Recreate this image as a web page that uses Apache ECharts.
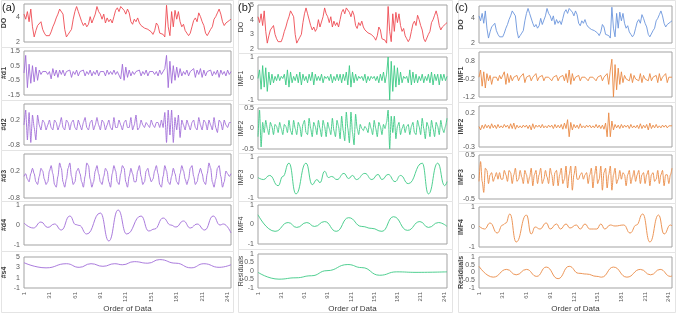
<!DOCTYPE html>
<html>
<head>
<meta charset="utf-8">
<script src="https://cdn.jsdelivr.net/npm/echarts@6/dist/echarts.min.js"></script>
<style>
html, body { margin: 0; padding: 0; background: #fff; }
#main { width: 676px; height: 314px; }
</style>
</head>
<body>
<div id="main"></div>
<script>
// order of data ticks on the x axis
var orderTicks = [1, 31, 61, 91, 121, 151, 181, 211, 241];

// dense series: one value every 2nd observation (1, 3, 5 ... 245)
var doVals = [
    4.2, 3.8, 4.4, 3.6, 4.6, 3.2, 2.4, 2.9, 3.3, 3.2,
    3.6, 3.0, 2.7, 2.5, 2.6, 2.5, 2.8, 3.2, 3.5, 3.9,
    4.2, 4.6, 4.5, 4.2, 3.0, 2.4, 2.6, 2.8, 3.0, 3.8,
    4.4, 4.8, 4.4, 4.5, 3.6, 3.3, 3.5, 3.2, 3.4, 4.0,
    3.5, 3.4, 4.2, 4.8, 4.4, 4.2, 3.8, 4.2, 3.5, 3.9,
    3.6, 3.8, 3.5, 4.0, 4.5, 4.7, 4.4, 4.8, 4.9, 4.5,
    4.2, 4.6, 4.3, 3.6, 3.4, 3.8, 3.6, 3.9, 3.5, 3.3,
    3.4, 3.1, 3.2, 3.0, 2.9, 2.8, 2.6, 2.9, 3.5, 3.3,
    2.7, 2.8, 2.6, 2.4, 4.9, 3.2, 2.5, 4.4, 3.2, 4.5,
    3.8, 4.4, 3.6, 3.2, 3.4, 2.9, 2.7, 2.5, 2.7, 3.2,
    3.7, 3.9, 3.6, 4.3, 4.0, 3.6, 3.3, 2.7, 2.5, 2.4,
    3.0, 3.2, 3.8, 4.0, 4.3, 4.6, 4.2, 3.6, 3.3, 3.5,
    3.4, 3.7, 3.8
];
var d1Vals = [
    0, 1.2, -1.0, 0.6, -0.7, 0.5, -0.6, 0.4, -0.5, 0.2,
    -0.1, 0.1, 0, 0.1, -0.1, 0.1, -0.4, 0.3, -0.2, 0.2,
    -0.3, 0.2, -0.1, 0.2, -0.2, 0.1, 0, 0.2, -0.3, 0.1,
    -0.1, 0.2, -0.2, 0.1, 0, 0.2, -0.2, 0.1, -0.1, 0.2,
    -0.2, 0.1, -0.1, 0.2, -0.2, 0.1, 0, 0.1, -0.2, 0.2,
    -0.1, 0.1, -0.1, 0.2, -0.1, 0.1, 0, -0.4, 0.6, -0.5,
    0.4, -0.3, 0.2, -0.2, 0.1, -0.1, 0.1, 0, 0.2, -0.2,
    0.1, -0.1, 0.2, -0.2, 0.1, 0, 0.1, -0.1, 0.1, -0.2,
    0.2, -0.1, 0, 0.3, 1.2, -1.0, 0.8, -0.7, 0.5, -0.5,
    0.4, -0.3, 0.3, -0.2, 0.1, -0.1, 0.2, -0.2, 0.1, 0,
    0.3, -0.3, 0.2, -0.1, 0.3, -0.3, 0.2, -0.2, 0.1, 0,
    0.2, -0.2, 0.1, -0.1, 0.2, -0.3, 0.2, -0.1, 0.1, -0.2,
    0.2, -0.1, 0.1
];
var d2Vals = [
    0, 0.6, -0.6, 0.5, -0.7, 0.4, -0.1, -0.6, 0.4, 0,
    -0.2, 0.2, 0.1, -0.2, 0, 0.2, -0.1, -0.2, 0.2, 0.1,
    -0.2, 0, 0.3, -0.1, -0.2, 0.2, 0.1, -0.2, 0.1, 0.2,
    -0.1, -0.2, 0.2, 0, -0.2, 0.1, 0.3, -0.1, -0.2, 0.1,
    0.2, -0.2, 0, 0.3, 0, -0.2, 0.2, 0.1, -0.2, 0,
    0.2, -0.1, -0.2, 0.3, -0.1, -0.1, 0.2, 0, -0.2, 0.1,
    0.2, -0.1, -0.1, 0.3, -0.2, 0, 0.4, -0.2, -0.1, 0.2,
    0, -0.1, 0.1, 0, -0.1, 0.2, 0, -0.1, 0.1, 0.1,
    -0.1, 0.2, -0.1, 0.5, -0.7, 0.6, -0.4, 0.6, -0.7, 0.3,
    -0.2, 0.4, -0.5, 0.2, 0, -0.2, 0.2, 0, -0.2, 0.1,
    0.2, -0.1, -0.2, 0.3, 0, -0.2, 0.2, 0.1, -0.2, 0.2,
    0, -0.2, 0.3, -0.1, -0.3, 0.2, 0.1, -0.2, 0.2, 0,
    -0.1, 0.1, 0.1
];
var d3Vals = [
    0, 0.1, -0.1, -0.2, 0.1, 0.3, 0.1, -0.2, -0.3, 0,
    0.3, 0.2, -0.1, -0.3, -0.2, 0.2, 0.4, 0.1, -0.3, -0.4,
    0, 0.5, 0.3, -0.2, -0.4, -0.1, 0.3, 0.5, 0, -0.3,
    -0.2, 0.2, 0.3, 0.1, -0.2, -0.4, 0, 0.5, 0.4, -0.1,
    -0.4, -0.2, 0.2, 0.4, 0.1, -0.2, -0.3, 0, 0.3, 0.2,
    -0.2, -0.4, 0.1, 0.4, 0.2, -0.2, -0.3, 0.1, 0.4, 0.3,
    -0.2, -0.4, 0, 0.3, 0.1, -0.2, -0.2, 0.2, 0.4, 0,
    -0.3, -0.2, 0.2, 0.3, 0, -0.2, -0.1, 0.2, 0.4, 0.1,
    -0.3, -0.4, 0, 0.4, 0.2, -0.2, -0.3, 0, 0.3, 0.1,
    -0.2, -0.3, 0.1, 0.4, 0.2, -0.1, -0.3, -0.1, 0.3, 0.4,
    0, -0.3, -0.2, 0.1, 0.3, 0.1, -0.2, -0.3, 0.1, 0.5,
    0.3, -0.2, -0.4, -0.1, 0.3, 0.4, 0, -0.4, -0.2, 0.2,
    0.1, 0, 0.1
];
var imf1bVals = [
    0, 0.4, -0.5, 0.6, -0.4, 0.5, -0.6, 0.3, -0.3, 0.2,
    -0.2, 0.1, -0.1, 0.2, -0.1, 0.1, 0, 0.2, -0.3, 0.4,
    -0.4, 0.3, -0.2, 0.1, -0.1, 0.2, -0.2, 0.3, -0.3, 0.2,
    -0.1, 0.1, -0.2, 0.2, -0.1, 0.3, -0.3, 0.2, -0.1, 0.1,
    -0.1, 0.2, -0.2, 0.1, 0, 0.1, -0.1, 0.2, -0.2, 0.1,
    -0.1, 0.2, -0.1, 0.2, -0.2, 0.2, -0.1, 0.3, -0.3, 0.6,
    -0.4, 0.3, -0.2, 0.2, -0.1, 0.1, 0, 0.1, -0.1, 0.2,
    -0.2, 0.1, -0.1, 0.1, 0, 0.1, -0.1, 0.1, -0.2, 0.2,
    -0.1, 0.3, -0.2, 0.2, 1.0, -1.0, 0.8, -0.6, 0.6, -0.4,
    0.5, -0.3, 0.3, -0.2, 0.1, 0, 0.1, -0.2, 0.4, -0.3,
    0.3, -0.2, 0.2, -0.2, 0.1, -0.1, 0.2, -0.2, 0.1, -0.1,
    0.2, -0.2, 0.3, -0.3, 0.2, -0.1, 0.2, -0.3, 0.2, -0.1,
    0.2, -0.1, 0.1
];
var imf2bVals = [
    -0.2, 0.45, -0.45, 0.15, -0.1, 0.2, 0, -0.15, 0.15, 0.05,
    -0.15, 0.1, 0.05, -0.1, 0.15, 0, -0.15, 0.1, 0.05, -0.1,
    0.2, -0.05, -0.15, 0.2, 0, -0.15, 0.15, 0.05, -0.2, 0.1,
    0.2, -0.1, -0.15, 0.25, 0, -0.2, 0.15, 0.05, -0.15, 0.2,
    0, -0.2, 0.2, 0.05, -0.2, 0.15, 0, -0.15, 0.25, -0.05,
    -0.2, 0.2, 0.05, -0.25, 0.3, -0.05, -0.3, 0.4, 0, -0.35,
    0.4, -0.1, -0.4, 0.35, 0, -0.15, 0.1, 0, -0.05, 0.05,
    0, -0.1, 0.15, 0, -0.15, 0.2, 0, -0.2, 0.15, 0.05,
    -0.15, 0.1, 0, 0.15, 0.45, -0.5, 0.3, -0.1, 0.3, -0.25,
    0.05, 0.15, -0.15, 0, 0.1, -0.1, 0.05, 0.1, -0.15, 0.05,
    0.15, -0.1, -0.15, 0.2, 0.05, -0.15, 0.25, 0, -0.25, 0.15,
    0.05, -0.2, 0.2, 0, -0.2, 0.15, 0.05, -0.15, 0.2, 0,
    -0.1, 0.05, 0.25
];
var imf1cVals = [
    -0.1, 0.3, -0.6, 0.2, -0.7, 0.1, -0.3, 0, -0.5, -0.1,
    -0.2, -0.1, -0.3, 0, -0.2, -0.1, 0.2, -0.5, 0.1, -0.4,
    0, -0.3, -0.1, -0.2, 0, -0.3, -0.1, -0.2, 0.1, -0.4,
    -0.1, -0.2, 0, -0.3, -0.1, -0.2, 0.1, -0.3, -0.1, -0.2,
    0, -0.3, -0.1, -0.2, -0.1, 0, -0.3, -0.1, -0.2, 0,
    -0.3, -0.1, -0.2, 0, -0.3, 0.1, -0.4, 0.3, -0.5, 0.1,
    -0.3, -0.1, -0.2, 0, -0.3, -0.1, -0.2, -0.1, 0, -0.3,
    -0.1, -0.2, -0.1, 0, -0.3, -0.1, -0.2, 0, -0.3, -0.1,
    -0.2, 0.1, -0.5, 0.3, 0.9, -1.2, 0.6, -0.8, 0.4, -0.5,
    0.2, -0.4, 0, -0.2, -0.1, -0.3, 0.1, -0.4, 0, -0.2,
    -0.1, -0.3, 0.1, -0.4, 0, -0.2, -0.1, -0.3, 0.1, -0.3,
    -0.1, -0.2, 0, -0.4, 0.1, -0.3, -0.1, -0.2, 0.1, -0.4,
    -0.1, -0.2, -0.1
];
var imf2cVals = [
    0, -0.05, 0.02, -0.03, 0.03, -0.02, 0.02, -0.03, 0.04, -0.02,
    0.02, -0.03, 0.03, -0.02, 0.01, -0.02, 0.03, -0.01, 0.02, -0.03,
    0.04, -0.03, 0.05, -0.04, 0.02, -0.02, 0.01, -0.02, 0.02, -0.01,
    0.02, -0.03, 0.02, -0.05, 0.04, -0.03, 0.02, -0.01, 0.02, -0.02,
    0.03, -0.02, 0.01, -0.02, 0.02, -0.01, 0.02, -0.03, 0.03, -0.02,
    0.02, -0.02, 0.03, -0.04, 0.05, -0.03, 0.1, -0.15, 0.06, -0.05,
    0.03, -0.02, 0.02, -0.03, 0.04, -0.02, 0.01, -0.02, 0.02, -0.01,
    0.02, -0.02, 0.01, -0.02, 0.03, -0.02, 0.02, -0.03, 0.02, -0.04,
    0.05, -0.15, 0.2, -0.15, 0.08, -0.05, 0.03, -0.02, 0.02, -0.03,
    0.03, -0.02, 0.02, -0.01, 0.02, -0.03, 0.03, -0.02, 0.01, -0.02,
    0.02, -0.03, 0.04, -0.03, 0.02, -0.02, 0.03, -0.05, 0.05, -0.03,
    0.02, -0.02, 0.03, -0.02, 0.01, -0.02, 0.02, -0.01, 0.02, -0.02,
    0.01, 0, 0.01
];
var imf3cVals = [
    -0.1, 0.35, -0.1, -0.35, 0.2, 0.15, -0.15, 0.05, 0.1, -0.1,
    0, 0.1, -0.05, 0.1, -0.05, -0.05, 0.15, 0.05, -0.1, 0.15,
    0.1, -0.15, 0.05, 0.2, -0.1, -0.05, 0.15, 0, -0.15, 0.15,
    0.05, -0.15, 0, 0.2, -0.2, 0.05, 0.15, -0.15, 0.05, 0.2,
    -0.15, -0.05, 0.15, 0, -0.15, 0.2, 0.05, -0.2, 0.1, 0.15,
    -0.2, 0.05, 0.2, -0.15, -0.05, 0.25, -0.25, 0.05, 0.25, -0.3,
    0.05, 0.25, -0.05, -0.05, 0.05, 0.1, -0.05, 0.05, 0.1, -0.15,
    0.05, 0.2, -0.25, 0.05, 0.25, -0.15, -0.05, 0.25, -0.3, 0.1,
    0.2, -0.25, 0.05, 0.25, -0.3, 0.05, 0.2, -0.15, -0.05, 0.15,
    -0.05, 0.1, 0.05, -0.2, 0.05, 0.15, -0.15, 0, 0.15, -0.1,
    0.05, 0.15, -0.15, 0.05, 0.1, -0.15, 0.05, 0.15, -0.2, 0.05,
    0.1, -0.1, -0.05, 0.15, -0.15, 0.05, 0.15, -0.2, 0.05, 0.05,
    -0.15, 0.05, 0.2
];

// smooth series: [order, value] at the turning points
var d4Pts = [[1, 0.1], [12, -0.15], [21, 0.15], [29, -0.12], [37, 0.05], [45, -0.25], [55, 0.45],
    [62, 0.02], [66, -0.02], [75, -0.45], [91, 0.6], [101, -0.8], [112, 0.75], [122, -0.45],
    [139, 0.45], [148, -0.3], [155, -0.2], [165, 0.35], [174, 0], [180, -0.1], [189, 0.2],
    [197, -0.15], [205, 0.05], [214, -0.25], [224, 0.45], [232, 0], [236, 0.05], [245, -0.4]];
var s4Pts = [[1, 3.9], [27, 2.9], [51, 3.7], [66, 3.0], [80, 3.7], [94, 3.2], [108, 3.7], [117, 3.5],
    [131, 4.1], [147, 3.8], [161, 4.5], [180, 3.8], [198, 2.9], [213, 3.7], [231, 3.0], [245, 3.5]];
var imf3bPts = [[1, 0], [8, -0.1], [16, 0.1], [27, -0.4], [33, 0.05], [41, 0.7], [50, -0.8], [63, 0.7],
    [71, -0.35], [77, -0.1], [81, -0.25], [87, 0.3], [92, 0], [96, 0.05], [103, -0.1], [112, 0.2],
    [118, -0.05], [123, 0.1], [128, -0.1], [139, 0.2], [148, -0.1], [156, 0.15], [161, -0.1],
    [169, 0.15], [178, -0.2], [185, 0.1], [195, -0.3], [213, 0.7], [221, -0.8], [233, 0.7],
    [242, -0.4], [245, -0.2]];
var imf4bPts = [[1, 0.5], [23, -0.35], [40, 0.1], [51, -0.15], [64, 0.1], [74, -0.1], [87, 0.15],
    [102, -0.35], [118, 0.35], [135, -0.1], [148, -0.2], [161, -0.35], [176, 0.4], [194, -0.3],
    [210, 0.15], [221, -0.15], [234, 0.1], [245, -0.1]];
var resbPts = [[1, -0.08], [28, -0.48], [50, -0.4], [70, -0.28], [90, 0.02], [117, 0.38], [135, 0.2],
    [158, -0.25], [180, -0.05], [205, -0.08], [245, -0.05]];
var imf4cPts = [[1, 0.05], [8, -0.1], [15, 0.2], [24, -0.3], [31, 0.1], [35, 0.2], [40, 0.65], [48, -0.75],
    [61, 0.6], [67, -0.35], [72, 0], [78, -0.1], [86, 0.2], [91, -0.1], [99, 0.15], [104, -0.1],
    [111, 0.15], [116, -0.05], [124, 0.1], [129, -0.1], [135, 0.15], [141, -0.1], [150, -0.1],
    [155, 0.15], [160, -0.1], [167, 0.1], [173, 0.05], [184, 0.1], [192, -0.3], [200, 0.1],
    [208, 0.65], [217, -0.75], [228, 0.6], [235, -0.35], [243, 0.1], [245, 0.05]];
var rescPts = [[1, 0.4], [19, -0.3], [36, 0.2], [48, -0.15], [61, 0.2], [74, -0.25], [86, 0.35],
    [101, -0.4], [115, 0.4], [127, -0.05], [137, -0.1], [150, -0.25], [156, -0.3], [171, 0.35],
    [188, -0.3], [205, 0.2], [218, -0.15], [230, 0.2], [243, -0.25], [245, -0.22]];

function dense(vals) {
    return vals.map(function (v, i) { return [1 + 2 * i, v]; });
}

var RED = '#EE4B52', PURPLE = '#A06CD8', GREEN = '#3CC985', BLUE = '#6B95DD', ORANGE = '#EA8A45';

var cols = [
    {left: 23, width: 208, nameGap: 16, bold: true},
    {left: 258, width: 189, nameGap: 13, bold: false},
    {left: 479, width: 193, nameGap: 14, bold: true}
];

var panels = [
    {c: 0, top: 4, h: 38, name: 'DO', min: 2, max: 5, iv: 2, data: dense(doVals), color: RED},
    {c: 0, top: 51, h: 44, name: '#d1', min: -1.5, max: 1.5, iv: 1, data: dense(d1Vals), color: PURPLE},
    {c: 0, top: 104, h: 41, name: '#d2', min: -0.8, max: 0.84, iv: 1, data: dense(d2Vals), color: PURPLE, smooth: 0.15},
    {c: 0, top: 154, h: 44, name: '#d3', min: -0.8, max: 0.83, iv: 1, data: dense(d3Vals), color: PURPLE, smooth: 0.3},
    {c: 0, top: 205, h: 40, name: '#d4', min: -1, max: 1, iv: 1, data: d4Pts, color: PURPLE, smooth: 0.5},
    {c: 0, top: 257, h: 34, name: '#s4', min: -1, max: 5, iv: 2, data: s4Pts, color: PURPLE, smooth: 0.5, last: true},

    {c: 1, top: 5, h: 44, name: 'DO', min: 2, max: 5, iv: 1, data: dense(doVals), color: RED},
    {c: 1, top: 57, h: 43, name: 'IMF1', min: -1, max: 1, iv: 1, data: dense(imf1bVals), color: GREEN},
    {c: 1, top: 108, h: 41, name: 'IMF2', min: -0.5, max: 0.5, iv: 0.5, data: dense(imf2bVals), color: GREEN, smooth: 0.2},
    {c: 1, top: 157, h: 41, name: 'IMF3', min: -1, max: 1, iv: 1, data: imf3bPts, color: GREEN, smooth: 0.5},
    {c: 1, top: 205, h: 39, name: 'IMF4', min: -1, max: 1, iv: 1, data: imf4bPts, color: GREEN, smooth: 0.5},
    {c: 1, top: 254, h: 36, name: 'Residuals', min: -1, max: 1, iv: 0.5, data: resbPts, color: GREEN, smooth: 0.5, last: true},

    {c: 2, top: 6, h: 37, name: 'DO', min: 2, max: 5, iv: 2, data: dense(doVals), color: BLUE},
    {c: 2, top: 52, h: 45, name: 'IMF1', min: -1.2, max: 1.3, iv: 1, data: dense(imf1cVals), color: ORANGE},
    {c: 2, top: 106, h: 41, name: 'IMF2', min: -0.3, max: 0.3, iv: 0.5, data: dense(imf2cVals), color: ORANGE},
    {c: 2, top: 155, h: 44, name: 'IMF3', min: -0.5, max: 0.5, iv: 0.5, data: dense(imf3cVals), color: ORANGE, smooth: 0.3},
    {c: 2, top: 207, h: 40, name: 'IMF4', min: -1, max: 1, iv: 1, data: imf4cPts, color: ORANGE, smooth: 0.5},
    {c: 2, top: 257, h: 34, name: 'Residuals', min: -1, max: 1, iv: 0.5, data: rescPts, color: ORANGE, smooth: 0.5, last: true}
];

var grids = [], xAxes = [], yAxes = [], series = [];
panels.forEach(function (p, i) {
    var col = cols[p.c];
    grids.push({
        left: col.left, top: p.top, width: col.width, height: p.h,
        show: true, borderColor: '#A3A3A3', borderWidth: 1, backgroundColor: '#fff'
    });
    xAxes.push({
        type: 'value', gridIndex: i, min: 1, max: 245, interval: 30,
        show: true,
        axisLine: {show: false}, axisTick: {show: false}, splitLine: {show: false},
        axisLabel: {
            show: !!p.last, rotate: 90, fontSize: 6, color: '#595959', margin: 4,
            formatter: function (v) { return orderTicks.indexOf(v) >= 0 ? String(v) : ''; }
        },
        name: p.last ? 'Order of Data' : '',
        nameLocation: 'middle', nameGap: 17, nameMoveOverlap: false,
        nameTextStyle: {fontSize: 8, color: '#404040'}
    });
    yAxes.push({
        type: 'value', gridIndex: i, min: p.min, max: p.max, interval: p.iv,
        axisLine: {show: false}, axisTick: {show: false}, splitLine: {show: false},
        axisLabel: {
            fontSize: 7, color: '#595959', margin: 4,
            showMaxLabel: (p.max - p.min) / p.iv % 1 === 0
        },
        name: p.name, nameLocation: 'middle', nameRotate: 90, nameGap: col.nameGap,
        nameMoveOverlap: false,
        nameTextStyle: {fontSize: 7, color: '#404040', fontWeight: col.bold ? 'bold' : 'normal'}
    });
    series.push({
        type: 'line', xAxisIndex: i, yAxisIndex: i, data: p.data,
        showSymbol: false, smooth: p.smooth || false, smoothMonotone: 'x',
        lineStyle: {width: 0.9, color: p.color}, silent: true
    });
});

// light boxes around every sub-chart, like the chart areas of the source figure
var boxes = [];
var colBox = [[1, 233], [238, 452], [458, 675]];
var rowEdges = [
    [0, 47, 100, 150, 201, 251, 312],
    [0, 53, 104, 153, 201, 249, 312],
    [0, 48, 102, 151, 203, 252, 312]
];
colBox.forEach(function (cb, c) {
    var e = rowEdges[c];
    for (var r = 0; r < 6; r++) {
        boxes.push({
            type: 'rect', silent: true, z: -10,
            shape: {x: cb[0] + 0.5, y: e[r] + 0.5, width: cb[1] - cb[0], height: e[r + 1] - e[r]},
            style: {fill: '#fff', stroke: '#E4E4E4', lineWidth: 1}
        });
    }
});
boxes.push({type: 'text', left: 2, top: 2, z: 10, style: {text: '(a)', fontSize: 11, fill: '#222', font: '11px Arial'}});
boxes.push({type: 'text', left: 238, top: 2, z: 10, style: {text: '(b)', fontSize: 11, fill: '#222', font: '11px Arial'}});
boxes.push({type: 'text', left: 455, top: 2, z: 10, style: {text: '(c)', fontSize: 11, fill: '#222', font: '11px Arial'}});

var myChart = echarts.init(document.getElementById('main'));
option = {
    animation: false,
    textStyle: {fontFamily: 'Liberation Sans, Arial, sans-serif'},
    graphic: boxes,
    grid: grids,
    xAxis: xAxes,
    yAxis: yAxes,
    series: series
};
myChart.setOption(option);
</script>
</body>
</html>
